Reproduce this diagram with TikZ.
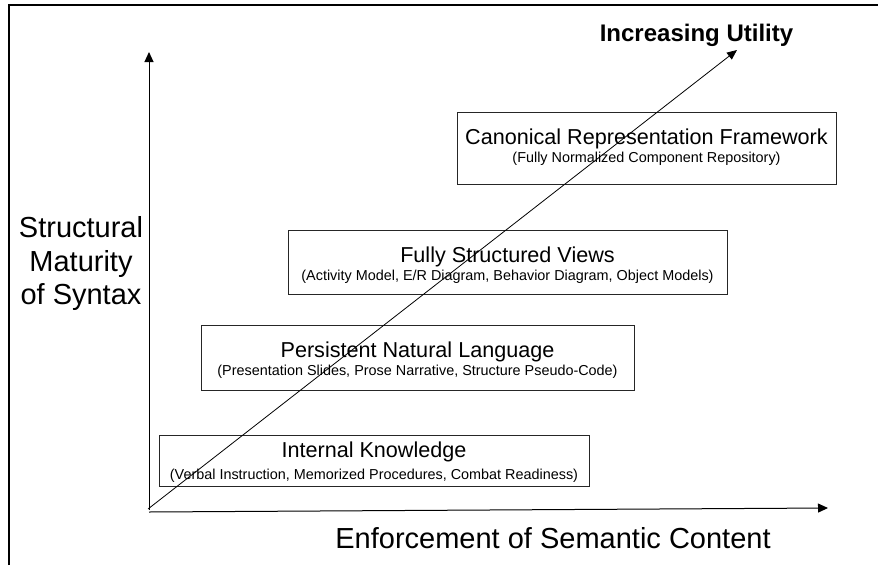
\documentclass[tikz,border=0pt]{standalone}
\usepackage{fontspec}
\setmainfont{Liberation Sans}
\usetikzlibrary{arrows.meta}

\begin{document}
\begin{tikzpicture}[x=1pt,y=-1pt,
  frameline/.style={line width=2pt,black},
  axis/.style={line width=1pt,black,-{Triangle[length=10pt,width=9pt]}},
  utility/.style={line width=0.8pt,black,-{Triangle[length=10pt,width=8.5pt]}},
  levelbox/.style={draw=black!85,line width=1pt,fill=white,rectangle,inner sep=0pt,anchor=north west},
  title/.style={inner sep=0pt,anchor=base,font=\fontsize{21.6}{26}\selectfont},
  subtitle/.style={inner sep=0pt,anchor=base,font=\fontsize{14.4}{17}\selectfont},
  axislabel/.style={inner sep=0pt,anchor=base,font=\fontsize{29}{34}\selectfont},
  headline/.style={inner sep=0pt,anchor=base,font=\bfseries\fontsize{24}{28}\selectfont}
]
\useasboundingbox (0,0) rectangle (878,565);

% outer frame (left and top edges)
\coordinate (fb) at (9,565);
\coordinate (fc) at (9,5);
\coordinate (fr) at (878,5);
\draw[frameline] (fb) -- (fc) -- (fr);

% maturity levels
\node[levelbox,minimum width=430pt,minimum height=51pt] (ik) at (159,435) {};
\node[title]    (ikt) at (374,457) {Internal Knowledge};
\node[subtitle] (iks) at (374,479) {(Verbal Instruction, Memorized Procedures, Combat Readiness)};

\node[levelbox,minimum width=433pt,minimum height=65pt] (pn) at (201,325) {};
\node[title]    (pnt) at (417.5,357) {Persistent Natural Language};
\node[subtitle] (pns) at (417.5,375) {(Presentation Slides, Prose Narrative, Structure Pseudo-Code)};

\node[levelbox,minimum width=439pt,minimum height=64pt] (fs) at (288,230) {};
\node[title]    (fst) at (507.5,262) {Fully Structured Views};
\node[subtitle] (fss) at (507.5,280) {(Activity Model, E/R Diagram, Behavior Diagram, Object Models)};

\node[levelbox,minimum width=379pt,minimum height=72pt] (cr) at (457,112) {};
\node[title]    (crt) at (646.5,144) {Canonical Representation Framework};
\node[subtitle] (crs) at (646.5,162) {(Fully Normalized Component Repository)};

% axes
\coordinate (oy) at (149,510);
\coordinate (ytip) at (149,52);
\coordinate (ox) at (149,512);
\coordinate (xtip) at (828,508);
\coordinate (ou) at (148,509);
\coordinate (utip) at (737,50);
\draw[axis] (oy) -- (ytip);
\draw[axis] (ox) -- (xtip);
\draw[utility] (ou) -- (utip);

% axis labels
\node[headline]  (inc) at (696.5,41) {Increasing Utility};
\node[axislabel] (sm1) at (81,237.5) {Structural};
\node[axislabel] (sm2) at (81,271) {Maturity};
\node[axislabel] (sm3) at (81,304.5) {of Syntax};
\node[axislabel] (esc) at (553,548) {Enforcement of Semantic Content};
\end{tikzpicture}
\end{document}
